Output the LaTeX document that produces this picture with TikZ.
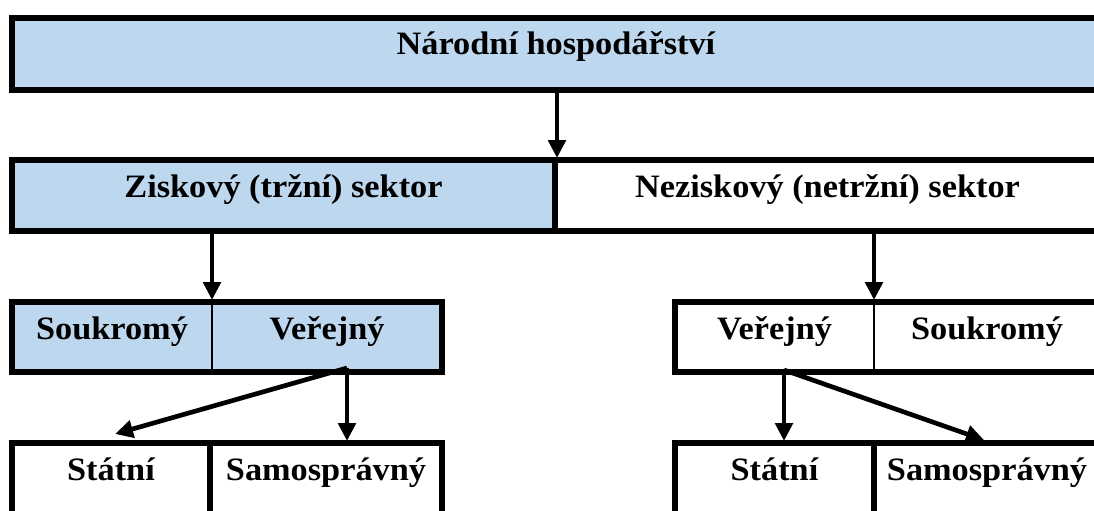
\documentclass[tikz,border=0pt]{standalone}
\usepackage{fontspec}
\setmainfont[FakeStretch=1.05]{Liberation Serif}
\usetikzlibrary{arrows.meta}
\definecolor{cellblue}{HTML}{BDD7EE}
\begin{document}
\begin{tikzpicture}[x=0.75pt,y=-0.75pt,
  cell/.style={anchor=north west, inner sep=0pt, outer sep=0pt, text height=27.75pt,
    font=\fontsize{24.5}{29}\selectfont\bfseries},
  blue/.style={fill=cellblue},
  border/.style={line width=4.1pt, line join=miter},
  divthin/.style={line width=1.5pt},
  arr/.style={line width=3.5pt, -{Triangle[width=13pt,length=13.5pt]}, shorten >=1.5pt}
]
\path[use as bounding box] (0,0) rectangle (1094,510);
\clip (0,0) rectangle (1094,510);

% row 1
\node[cell, blue, minimum width=816pt, text depth=26.25pt] (nh) at (12,18) {Národní hospodářství};
% row 2
\node[cell, blue, minimum width=407.25pt, text depth=25.5pt] (zisk) at (12,160) {Ziskový (tržní) sektor};
\node[cell, minimum width=408.75pt, text depth=25.5pt] (nezisk) at (555,160) {Neziskový (netržní) sektor};
% row 3
\node[cell, blue, minimum width=150pt, text depth=24.75pt] (sou1) at (12,302) {Soukromý};
\node[cell, blue, minimum width=172.5pt, text depth=24.75pt] (ver1) at (212,302) {Veřejný};
\node[cell, minimum width=149.25pt, text depth=24.75pt] (ver2) at (675,302) {Veřejný};
\node[cell, minimum width=169.5pt, text depth=24.75pt] (sou2) at (874,302) {Soukromý};
% row 4
\node[cell, minimum width=148.5pt, text depth=32.25pt] (stat1) at (12,443) {Státní};
\node[cell, minimum width=174pt, text depth=32.25pt] (samo1) at (210,443) {Samosprávný};
\node[cell, minimum width=149.25pt, text depth=32.25pt] (stat2) at (675,443) {Státní};
\node[cell, minimum width=169.5pt, text depth=32.25pt] (samo2) at (874,443) {Samosprávný};

% borders
\draw[border] (nh.north west) rectangle (nh.south east);
\draw[border] (zisk.north west) rectangle (nezisk.south east);
\draw[border] (zisk.north east) -- (zisk.south east);
\draw[border] (sou1.north west) rectangle (ver1.south east);
\draw[divthin] (sou1.north east) -- (sou1.south east);
\draw[border] (ver2.north west) rectangle (sou2.south east);
\draw[divthin] (ver2.north east) -- (ver2.south east);
\draw[border] (stat1.north west) rectangle (samo1.south east);
\draw[border] (stat1.north east) -- (stat1.south east);
\draw[border] (stat2.north west) rectangle (samo2.south east);
\draw[border] (stat2.north east) -- (stat2.south east);

% connector points
\coordinate (a0) at (557,90);
\coordinate (a0e) at (557,160);
\coordinate (v1) at (347,368);
\coordinate (d1) at (115,434);
\coordinate (v2) at (784,370);
\coordinate (d2) at (984,440);

% arrows
\draw[arr] (a0) -- (a0e);
\draw[arr] (zisk.south -| sou1.north east) -- (sou1.north east);
\draw[arr] (nezisk.south -| ver2.north east) -- (ver2.north east);
\draw[arr] (v1) -- (v1 |- samo1.north);
\draw[arr, shorten >=0pt] (v1) -- (d1);
\draw[arr] (v2) -- (v2 |- stat2.north);
\draw[arr, shorten >=0pt] (v2) -- (d2);
\end{tikzpicture}
\end{document}
